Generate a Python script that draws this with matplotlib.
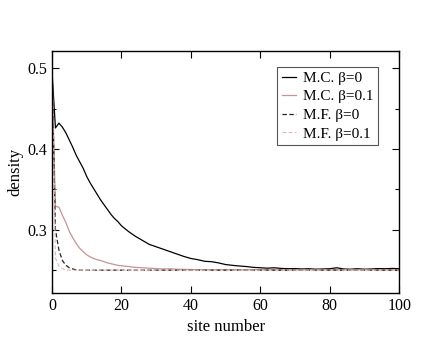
import numpy as np
import matplotlib.pyplot as plt
from matplotlib.ticker import MultipleLocator

plt.rcParams['font.family'] = ['Liberation Serif', 'DejaVu Serif']

# M.C. beta=0 (Monte Carlo)
mc0_site = [0, 1, 2, 3, 4, 5, 6, 7, 8, 9, 10, 11, 12, 13, 14, 15, 16, 17, 18, 19,
            20, 22, 24, 26, 28, 30, 32, 34, 36, 38, 40, 42, 44, 46, 48, 50, 52, 54,
            56, 58, 60, 62, 64, 66, 68, 70, 72, 74, 76, 78, 80, 82, 84, 86, 88, 90,
            92, 94, 96, 98, 100]
mc0_dens = [0.497, 0.426, 0.432, 0.427, 0.420, 0.411, 0.402, 0.392, 0.384, 0.376,
            0.366, 0.358, 0.351, 0.344, 0.337, 0.331, 0.325, 0.319, 0.314, 0.310,
            0.305, 0.298, 0.292, 0.287, 0.282, 0.279, 0.276, 0.273, 0.270, 0.267,
            0.2645, 0.263, 0.261, 0.2605, 0.259, 0.257, 0.256, 0.2552, 0.2545, 0.2535,
            0.253, 0.2525, 0.253, 0.2522, 0.2518, 0.252, 0.2515, 0.2518, 0.2512, 0.2515,
            0.2518, 0.253, 0.2515, 0.2512, 0.2518, 0.2512, 0.2515, 0.252, 0.2518, 0.2522,
            0.2518]

# M.C. beta=0.1
mc1_site = [0, 1, 2, 3, 4, 5, 6, 7, 8, 9, 10, 11, 12, 13, 14, 15, 16, 17, 18, 19,
            20, 22, 24, 26, 28, 30, 32, 34, 36, 38, 40, 45, 50, 55, 60, 65, 70, 75,
            80, 85, 90, 95, 100]
mc1_dens = [0.497, 0.329, 0.328, 0.318, 0.309, 0.298, 0.290, 0.283, 0.277, 0.273,
            0.269, 0.2665, 0.2645, 0.263, 0.262, 0.2605, 0.259, 0.258, 0.257, 0.256,
            0.2555, 0.2545, 0.2535, 0.253, 0.2525, 0.252, 0.2515, 0.2518, 0.2512, 0.251,
            0.2508, 0.2506, 0.2508, 0.2505, 0.2507, 0.2505, 0.2506, 0.2505, 0.2507, 0.2505,
            0.2506, 0.2505, 0.2505]

# M.F. beta=0 (mean field)
mf0_site = [0, 1, 2, 3, 4, 5, 6, 7, 8, 100]
mf0_dens = [0.5, 0.300, 0.275, 0.262, 0.256, 0.253, 0.2515, 0.2505, 0.250, 0.250]

# M.F. beta=0.1
mf1_site = [0, 1, 2, 3, 4, 5, 100]
mf1_dens = [0.5, 0.265, 0.255, 0.252, 0.2505, 0.250, 0.250]

fig = plt.figure(figsize=(4.48, 3.46), dpi=100)
ax = fig.add_axes([0.116, 0.153, 0.775, 0.70])

ax.plot(mc0_site, mc0_dens, color='black', lw=0.9, label='M.C. β=0')
ax.plot(mc1_site, mc1_dens, color='#c49494', lw=0.9, label='M.C. β=0.1')
ax.plot(mf0_site, mf0_dens, color='#222222', lw=0.9, ls=(0, (3.5, 2)), label='M.F. β=0')
ax.plot(mf1_site, mf1_dens, color='#e2b6b6', lw=0.8, ls=(0, (3.5, 2)), label='M.F. β=0.1')

ax.set_xlim(0, 100)
ax.set_ylim(0.2217, 0.5214)
ax.xaxis.set_major_locator(MultipleLocator(20))
ax.yaxis.set_major_locator(MultipleLocator(0.1))
ax.yaxis.set_minor_locator(MultipleLocator(0.05))
ax.tick_params(which='both', direction='in', top=True, right=True, labelsize=11.5, width=0.8)
ax.tick_params(which='major', length=5)
ax.tick_params(which='minor', length=3)
ax.set_yticks([0.3, 0.4, 0.5])
ax.set_yticklabels(['0.3', '0.4', '0.5'])
for s in ax.spines.values():
    s.set_linewidth(1.0)

ax.set_xlabel('site number', fontsize=12, labelpad=4)
ax.set_ylabel('density', fontsize=12, labelpad=3)

leg = ax.legend(loc='upper right', bbox_to_anchor=(0.94, 0.935), fontsize=11,
                fancybox=False, framealpha=1, handlelength=0.9, handletextpad=0.5,
                borderpad=0.3, labelspacing=0.32, borderaxespad=0)
leg.get_frame().set_edgecolor('#555555')
leg.get_frame().set_linewidth(0.8)

plt.savefig('out.png', dpi=100)
